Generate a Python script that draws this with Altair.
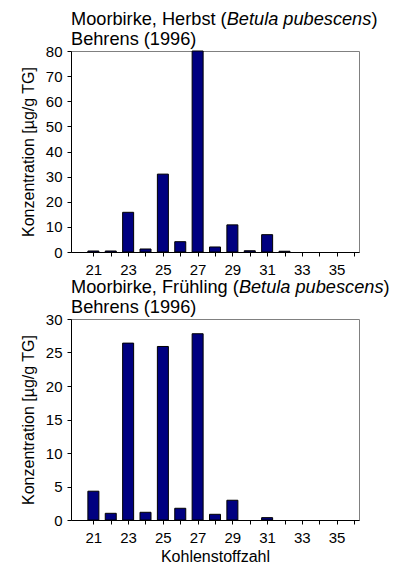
import altair as alt
import pandas as pd

# ---- data ----
carbon = list(range(21, 36))
herbst = [0.4, 0.4, 15.8, 1.2, 31.0, 4.1, 80.0, 2.0, 10.8, 0.5, 6.9, 0.3, 0.0, 0.0, 0.0]
fruehling = [4.3, 1.0, 26.4, 1.15, 25.9, 1.75, 27.8, 0.85, 2.95, 0.0, 0.35, 0.0, 0.0, 0.0, 0.0]
x_ticks = list(range(21, 37))
title_top = ["Moorbirke, Herbst (", "Betula pubescens", ")"]
title_bottom = ["Moorbirke, Frühling (", "Betula pubescens", ")"]
subtitle = "Behrens (1996)"
y_title = "Konzentration [µg/g TG]"
x_title = "Kohlenstoffzahl"

FONT = "Liberation Sans"
TITLE_SIZE = 18.2

# Arial / Liberation Sans advance widths (1/1000 em)
W = {
    "M": 833, "o": 556, "r": 333, "b": 556, "i": 222, "k": 500, "e": 556, ",": 278,
    " ": 278, "H": 722, "s": 500, "t": 278, "(": 333, ")": 333, "F": 611, "ü": 556,
    "h": 556, "l": 222, "n": 556, "g": 556, "B": 667, "u": 556, "a": 556, "p": 556,
    "c": 500,
}


def tw(s, size):
    return sum(W.get(ch, 556) for ch in s) * size / 1000.0


one = pd.DataFrame({"k": [0]})


def text_piece(s, x, y, italic=False):
    return alt.Chart(one).mark_text(
        text=s, align="left", baseline="alphabetic", fontSize=TITLE_SIZE, font=FONT,
        fontStyle="italic" if italic else "normal", color="#000000",
    ).encode(x=alt.value(x), y=alt.value(y))


def panel(values, pieces, ymax, ystep, show_xtitle):
    df = pd.DataFrame({"C": carbon, "v": values})
    xaxis = dict(
        values=x_ticks,
        labelExpr="datum.value % 2 == 1 ? datum.label : ''",
        labelOverlap=False, labelFlush=False, tickSize=4, labelPadding=6,
        titlePadding=3, grid=False,
    )
    xaxis["title"] = x_title if show_xtitle else None
    bars = alt.Chart(df).transform_filter("datum.v > 0").mark_bar(
        size=11, color="#000080", stroke="#000000", strokeWidth=1
    ).encode(
        x=alt.X("C:Q", scale=alt.Scale(domain=[20, 36], nice=False, zero=False),
                axis=alt.Axis(**xaxis)),
        y=alt.Y("v:Q", scale=alt.Scale(domain=[0, ymax], nice=False),
                axis=alt.Axis(values=list(range(0, ymax + 1, ystep)), title=y_title,
                              tickSize=4, labelPadding=5, titlePadding=9, grid=False)),
    )
    x1 = tw(pieces[0], TITLE_SIZE)
    x2 = x1 + tw(pieces[1], TITLE_SIZE)
    layers = [
        bars,
        text_piece(pieces[0], 0, -26),
        text_piece(pieces[1], x1, -26, italic=True),
        text_piece(pieces[2], x2, -26),
        text_piece(subtitle, 0, -6),
    ]
    return alt.layer(*layers).properties(width=288, height=201)


top = panel(herbst, title_top, 80, 10, False)
bottom = panel(fruehling, title_bottom, 30, 5, True)

chart = alt.vconcat(top, bottom, spacing=67, bounds="flush").properties(
    padding={"left": 11, "top": 1, "right": 0, "bottom": 0}
).configure_view(
    stroke="#808080", strokeWidth=1
).configure_axis(
    labelFont=FONT, labelFontSize=15, labelColor="#000000",
    titleFont=FONT, titleFontSize=16, titleFontWeight="normal", titleColor="#000000",
    domainColor="#000000", tickColor="#000000", domainWidth=1, tickWidth=1,
)

chart.save("out.html", embed_options={"renderer": "svg", "actions": False})
